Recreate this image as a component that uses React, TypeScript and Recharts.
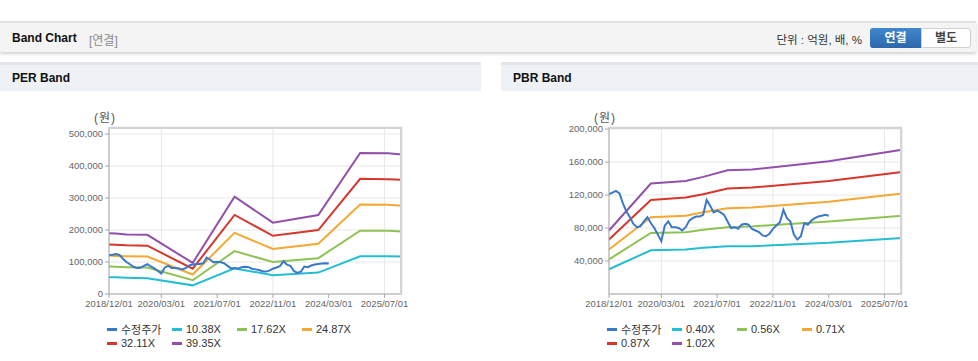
import { CartesianGrid, Line, LineChart, XAxis, YAxis } from "recharts";

const FONT = '"Liberation Sans", Arial, "Noto Sans CJK KR", sans-serif';

// x axis labels
const xTickLabels = [
  "2018/12/01",
  "2020/03/01",
  "2021/07/01",
  "2022/11/01",
  "2024/03/01",
  "2025/07/01",
];
const xEnd = "2025/12";

// 수정주가, monthly from 2018/12 to 2024/03
const priceStart = "2018/12";
const price = [
  121000, 123000, 125000, 122000, 110000, 100000, 93000, 85000, 81000, 82000,
  88000, 93000, 86000, 80000, 72000, 64000, 83000, 88000, 81000, 81000,
  80000, 77000, 81000, 89000, 92000, 94000, 94000, 96000, 114000, 107000,
  99000, 101000, 99000, 96000, 88000, 80000, 81000, 79000, 84000, 85000,
  84000, 79000, 77000, 75000, 71000, 70000, 73000, 79000, 83000, 87000,
  102000, 92000, 88000, 72000, 66000, 70000, 86000, 84000, 89000, 92000,
  94000, 95000, 96000, 95000,
];

// PER band
const perNames = ["10.38X", "17.62X", "24.87X", "32.11X", "39.35X"];
const perDates = [
  "2018/12", "2019/02", "2019/05", "2019/11", "2020/12", "2021/12",
  "2022/11", "2023/12", "2024/12", "2025/08", "2025/12",
];
const per1038 = [52000, 52000, 51000, 49000, 27000, 80000, 59000, 67000, 118000, 118000, 117000];
const per1762 = [86000, 85000, 84000, 83000, 43000, 134000, 100000, 112000, 198000, 198000, 195000];
const per2487 = [120000, 119000, 118000, 117000, 61000, 191000, 141000, 157000, 280000, 279000, 276000];
const per3211 = [155000, 154000, 152000, 151000, 79000, 247000, 182000, 200000, 360000, 359000, 357000];
const per3935 = [190000, 189000, 186000, 185000, 97000, 304000, 223000, 247000, 441000, 440000, 436000];
const perTicks = [0, 100000, 200000, 300000, 400000, 500000];

// PBR band
const pbrNames = ["0.40X", "0.56X", "0.71X", "0.87X", "1.02X"];
const pbrDates = ["2018/12", "2019/12", "2020/10", "2021/03", "2021/10", "2022/05", "2024/03", "2025/12"];
const pbr040 = [30000, 53000, 54000, 56000, 58000, 58000, 62000, 68000];
const pbr056 = [42000, 74000, 75000, 78000, 81000, 82000, 88000, 95000];
const pbr071 = [54000, 93000, 95000, 99000, 104000, 105000, 112000, 122000];
const pbr087 = [66000, 114000, 117000, 121000, 128000, 129000, 137000, 148000];
const pbr102 = [77000, 134000, 137000, 142000, 150000, 151000, 161000, 175000];
const pbrTicks = [40000, 80000, 120000, 160000, 200000];

const priceColor = "#3a78c9";
const bandColors = ["#26bdd0", "#8fc255", "#f5a834", "#d6372c", "#9350aa"];

const monthIndex = (d: string) => {
  const [y, m] = d.split("/").map(Number);
  return (y - 2018) * 12 + (m - 12);
};

const toPoints = (dates: string[], values: number[]) =>
  values.map((v, i) => ({ x: monthIndex(dates[i]), y: v }));

const pricePoints = price.map((v, i) => ({ x: monthIndex(priceStart) + i, y: v }));

interface PanelProps {
  title: string;
  left: number;
  width: number;
  plotLeft: number;
  plotRight: number;
  names: string[];
  dates: string[];
  bands: number[][];
  yMax: number;
  yTicks: number[];
}

function BandPanel({ title, left, width, plotLeft, plotRight, names, dates, bands, yMax, yTicks }: PanelProps) {
  const legendItems = [
    { name: "수정주가", color: priceColor },
    ...names.map((n, i) => ({ name: n, color: bandColors[i] })),
  ];
  const chartTop = 29;
  const chartH = 225;
  const mTop = 36;
  const mBottom = 2;
  const xAxisH = 20;
  return (
    <div style={{ position: "absolute", left, top: 62, width, height: 299 }}>
      <div
        style={{
          height: 26,
          borderTop: "3px solid #e2e6eb",
          background: "#eef1f6",
          fontWeight: "bold",
          fontSize: 12,
          lineHeight: "26px",
          paddingLeft: 12,
          color: "#111",
        }}
      >
        {title}
      </div>
      <div
        style={{
          position: "absolute",
          left: plotLeft - 15,
          top: 46,
          fontSize: 12,
          letterSpacing: 1,
          color: "#555",
        }}
      >
        (원)
      </div>
      <div style={{ position: "absolute", left: 0, top: chartTop }}>
        <LineChart width={width} height={chartH} margin={{ top: mTop, right: width - plotRight, left: 0, bottom: mBottom }}>
          <CartesianGrid stroke="#e8e8e8" />
          <XAxis
            type="number"
            dataKey="x"
            domain={[0, monthIndex(xEnd)]}
            ticks={xTickLabels.map(monthIndex)}
            tickFormatter={(v: number) => xTickLabels.find((l) => monthIndex(l) === v) ?? ""}
            tick={{ fontSize: 9.5, fill: "#666" }}
            tickSize={4}
            tickMargin={2}
            height={xAxisH}
            stroke="#a8a8a8"
          />
          <YAxis
            type="number"
            domain={[0, yMax]}
            ticks={yTicks}
            tickFormatter={(v: number) => v.toLocaleString("en-US")}
            tick={{ fontSize: 9.5, fill: "#666" }}
            tickSize={4}
            tickMargin={2}
            width={plotLeft}
            stroke="#a8a8a8"
            allowDataOverflow
          />
          {bands.map((vals, i) => (
            <Line
              key={names[i]}
              data={toPoints(dates, vals)}
              dataKey="y"
              type="linear"
              stroke={bandColors[i]}
              strokeWidth={2}
              dot={false}
              name={names[i]}
              isAnimationActive={false}
            />
          ))}
          <Line
            data={pricePoints}
            dataKey="y"
            type="linear"
            stroke={priceColor}
            strokeWidth={2}
            dot={false}
            name="수정주가"
            isAnimationActive={false}
          />
        </LineChart>
        <div
          style={{
            position: "absolute",
            left: plotLeft,
            top: mTop,
            width: plotRight - plotLeft,
            height: chartH - mTop - mBottom - xAxisH,
            borderTop: "2px solid #d4d4d4",
            borderRight: "2px solid #d4d4d4",
            boxSizing: "border-box",
            pointerEvents: "none",
          }}
        />
      </div>
      <div
        style={{
          position: "absolute",
          left: plotLeft - 2,
          top: 260,
          width: 270,
          display: "flex",
          flexWrap: "wrap",
          fontSize: 11,
          color: "#333",
        }}
      >
        {legendItems.map((it) => (
          <div key={it.name} style={{ width: 65, height: 14, display: "flex", alignItems: "center" }}>
            <span style={{ display: "inline-block", width: 10, height: 3, background: it.color, marginRight: 4 }} />
            <span>{it.name}</span>
          </div>
        ))}
      </div>
    </div>
  );
}

export default function App() {
  return (
    <div style={{ position: "relative", width: 978, height: 361, fontFamily: FONT, background: "#fff", overflow: "hidden" }}>
      <style>{`body{margin:0}`}</style>
      <div
        style={{
          position: "absolute",
          left: 0,
          top: 21,
          width: 976,
          height: 29,
          background: "#f4f4f4",
          borderTop: "2px solid #e2e2e2",
          boxShadow: "0 2px 3px rgba(0,0,0,0.18)",
        }}
      >
        <span style={{ position: "absolute", left: 12, top: 8, fontSize: 12, fontWeight: "bold", color: "#111" }}>
          Band Chart
        </span>
        <span style={{ position: "absolute", left: 89, top: 8, fontSize: 12, color: "#8a8a8a" }}>[연결]</span>
        <span style={{ position: "absolute", right: 976 - 862, top: 8, fontSize: 11.5, color: "#333" }}>
          단위 : 억원, 배, %
        </span>
        <div
          style={{
            position: "absolute",
            left: 870,
            top: 5,
            width: 51,
            height: 20,
            borderRadius: "3px 0 0 3px",
            background: "linear-gradient(#4186cc, #2b68ab)",
            color: "#fff",
            fontSize: 12,
            fontWeight: "bold",
            textAlign: "center",
            lineHeight: "20px",
          }}
        >
          연결
        </div>
        <div
          style={{
            position: "absolute",
            left: 921,
            top: 5,
            width: 48,
            height: 18,
            border: "1px solid #cfcfcf",
            borderRadius: "0 3px 3px 0",
            background: "#fff",
            color: "#444",
            fontSize: 12,
            fontWeight: "bold",
            textAlign: "center",
            lineHeight: "18px",
          }}
        >
          별도
        </div>
      </div>
      <BandPanel
        title="PER Band"
        left={0}
        width={481}
        plotLeft={109}
        plotRight={402}
        names={perNames}
        dates={perDates}
        bands={[per1038, per1762, per2487, per3211, per3935]}
        yMax={522000}
        yTicks={perTicks}
      />
      <BandPanel
        title="PBR Band"
        left={501}
        width={477}
        plotLeft={108}
        plotRight={401}
        names={pbrNames}
        dates={pbrDates}
        bands={[pbr040, pbr056, pbr071, pbr087, pbr102]}
        yMax={202500}
        yTicks={pbrTicks}
      />
    </div>
  );
}
